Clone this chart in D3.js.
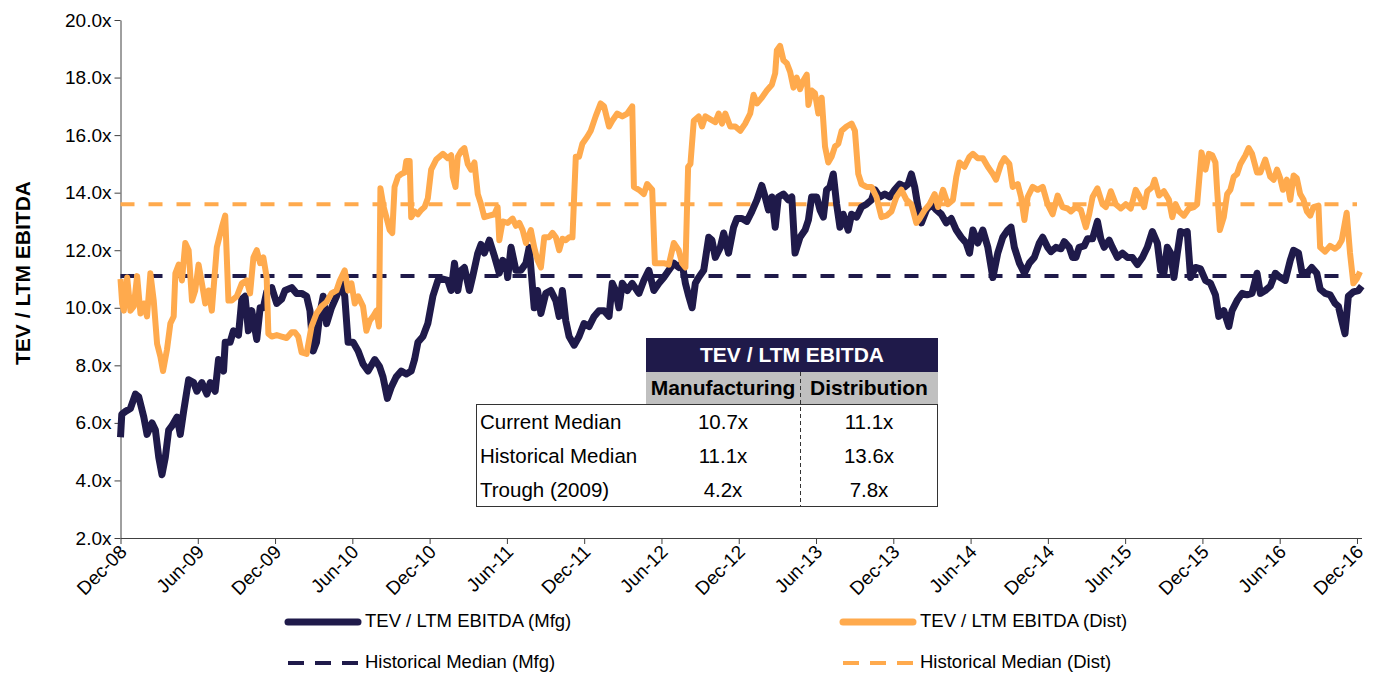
<!DOCTYPE html>
<html>
<head>
<meta charset="utf-8">
<script src="https://cdn.jsdelivr.net/npm/d3@7"></script>
<style>
  body { margin: 0; background: #fff; }
  svg { display: block; font-family: "Liberation Sans", Arial, sans-serif; }
</style>
</head>
<body>
<svg width="1373" height="673"></svg>
<script>
// x tick labels, one every 6 months starting Dec-08
const tickLabels = ["Dec-08", "Jun-09", "Dec-09", "Jun-10", "Dec-10", "Jun-11", "Dec-11", "Jun-12", "Dec-12",
    "Jun-13", "Dec-13", "Jun-14", "Dec-14", "Jun-15", "Dec-15", "Jun-16", "Dec-16"];

// Manufacturing: months after Dec-08, TEV / LTM EBITDA
const mfgMonth = [0, 0.1, 0.39, 0.77, 1.16, 1.42, 1.81, 2.06, 2.45, 2.71, 2.97, 3.22, 3.48, 3.74, 4.0, 4.39, 4.64, 4.9,
    5.29, 5.68, 5.93, 6.32, 6.71, 6.97, 7.35, 7.61, 8.0, 8.13, 8.51, 8.77, 9.16, 9.42, 9.67, 9.93, 10.19, 10.58, 10.84,
    11.09, 11.35, 11.74, 12.13, 12.51, 12.77, 13.29, 13.67, 14.06, 14.45, 14.71, 14.96, 15.22, 15.48, 15.74, 16.0, 16.38,
    16.77, 17.16, 17.41, 17.67, 18.06, 18.45, 18.83, 19.22, 19.74, 20.12, 20.38, 20.72, 21.03, 21.41, 21.8, 22.19, 22.57,
    22.83, 23.09, 23.48, 23.86, 24.25, 24.64, 25.03, 25.41, 25.67, 25.93, 26.19, 26.45, 26.7, 27.09, 27.35, 27.74, 27.99,
    28.25, 28.64, 29.03, 29.41, 29.67, 29.93, 30.06, 30.32, 30.7, 31.09, 31.48, 31.73, 32.12, 32.38, 32.64, 33.02, 33.41,
    33.8, 34.06, 34.31, 34.57, 34.83, 35.22, 35.6, 35.99, 36.38, 36.77, 37.15, 37.54, 37.93, 38.18, 38.44, 38.7, 38.96,
    39.35, 39.73, 40.25, 40.63, 41.02, 41.41, 41.8, 42.18, 42.57, 42.96, 43.34, 43.6, 43.86, 44.12, 44.38, 44.63, 44.89,
    45.28, 45.67, 45.92, 46.18, 46.57, 46.83, 47.21, 47.6, 47.86, 48.25, 48.63, 49.02, 49.41, 49.79, 50.05, 50.31, 50.57,
    50.83, 51.08, 51.47, 51.86, 52.12, 52.37, 52.76, 53.15, 53.41, 53.66, 54.05, 54.31, 54.57, 54.82, 55.08, 55.34, 55.6,
    55.86, 56.11, 56.5, 56.76, 57.15, 57.53, 57.92, 58.31, 58.57, 58.95, 59.34, 59.73, 60.11, 60.5, 60.89, 61.15, 61.4,
    61.66, 61.92, 62.18, 62.57, 62.95, 63.34, 63.73, 64.11, 64.5, 64.89, 65.27, 65.66, 65.92, 66.18, 66.56, 66.95, 67.34,
    67.73, 68.11, 68.5, 68.89, 69.14, 69.4, 69.79, 70.18, 70.56, 70.95, 71.34, 71.6, 71.98, 72.24, 72.63, 73.02, 73.27,
    73.66, 73.92, 74.18, 74.43, 74.82, 75.08, 75.47, 75.85, 76.11, 76.37, 76.76, 77.01, 77.4, 77.79, 78.18, 78.56, 78.95,
    79.34, 79.72, 80.11, 80.5, 80.76, 81.01, 81.27, 81.53, 81.79, 82.05, 82.3, 82.56, 82.82, 83.08, 83.46, 83.85, 84.24,
    84.63, 85.01, 85.27, 85.66, 86.05, 86.3, 86.69, 87.08, 87.46, 87.85, 88.24, 88.5, 88.88, 89.27, 89.66, 90.04, 90.43,
    90.82, 91.08, 91.46, 91.72, 92.11, 92.49, 92.88, 93.14, 93.53, 93.91, 94.3, 94.56, 94.82, 95.07, 95.33, 95.72, 96.11,
    96.37];
const mfgValue = [5.5, 6.3, 6.4, 6.5, 7.0, 6.9, 6.2, 5.6, 6.0, 5.75, 4.8, 4.2, 4.8, 5.75, 5.9, 6.2, 5.6, 6.4,
    7.5, 7.4, 7.1, 7.4, 7.0, 7.4, 7.1, 8.2, 7.8, 8.8, 8.8, 9.2, 9.05, 10.3, 10.4, 9.2, 9.9, 8.9, 10.0,
    10.0, 10.55, 10.7, 10.15, 10.3, 10.6, 10.7, 10.5, 10.5, 10.4, 9.9, 8.5, 8.8, 9.8, 10.4, 9.45, 10.0,
    10.4, 10.85, 10.4, 8.8, 8.8, 8.5, 8.05, 7.8, 8.2, 7.95, 7.6, 6.85, 7.25, 7.6, 7.8, 7.7, 7.8,
    8.2, 8.8, 9.0, 9.45, 10.4, 10.95, 11.0, 10.95, 10.6, 11.55, 10.6, 11.3, 11.4, 10.6, 11.1, 11.9, 12.2,
    11.9, 12.35, 11.8, 11.2, 11.65, 11.55, 11.05, 12.1, 11.3, 11.3, 11.55, 12.1, 10.0, 10.6, 9.8, 10.5, 10.6,
    10.25, 9.7, 10.6, 9.55, 9.0, 8.7, 9.0, 9.45, 9.35, 9.7, 9.9, 9.9, 9.7, 10.85, 10.6, 10.0, 10.85,
    10.6, 10.85, 10.5, 10.95, 11.3, 10.6, 10.85, 11.05, 11.3, 11.55, 11.4, 11.55, 10.85, 10.4, 10.0, 10.85, 11.05,
    11.3, 12.45, 12.35, 11.75, 12.1, 12.6, 11.9, 12.8, 13.1, 13.1, 13.0, 13.35, 13.75, 14.25, 13.85, 13.4, 13.85,
    12.8, 13.85, 13.95, 13.75, 13.85, 11.9, 12.45, 12.7, 13.05, 13.85, 13.85, 13.4, 13.15, 14.1, 14.2, 14.65, 13.6,
    12.8, 13.25, 12.7, 13.25, 13.15, 13.5, 13.6, 13.75, 14.1, 13.85, 13.95, 13.85, 14.1, 14.3, 14.2, 14.3, 14.65,
    14.2, 13.5, 12.95, 13.4, 13.6, 13.4, 13.25, 12.95, 13.1, 12.7, 12.45, 12.25, 11.9, 12.7, 12.25, 12.7, 12.1,
    11.05, 11.9, 12.45, 12.7, 12.8, 12.1, 11.55, 11.2, 11.55, 11.75, 12.25, 12.45, 12.1, 11.95, 12.1, 12.05, 12.3,
    12.1, 11.75, 11.75, 12.1, 12.15, 12.4, 12.4, 13.0, 12.4, 12.1, 12.35, 12.1, 11.75, 11.9, 11.75, 11.75, 11.5,
    11.75, 12.1, 12.65, 12.25, 11.3, 11.2, 12.1, 11.9, 11.05, 11.9, 12.65, 12.6, 12.65, 11.05, 11.4, 11.35, 10.95,
    10.85, 10.45, 9.7, 9.9, 9.35, 9.9, 10.25, 10.5, 10.45, 10.5, 11.2, 10.5, 10.6, 10.75, 11.2, 11.05, 10.95,
    11.65, 12.0, 11.9, 11.25, 11.2, 11.4, 11.2, 10.65, 10.5, 10.45, 10.15, 10.05, 9.55, 9.1, 10.4, 10.55, 10.6,
    10.75];

// Distribution: months after Dec-08, TEV / LTM EBITDA
const distMonth = [0, 0.13, 0.26, 0.52, 0.77, 1.03, 1.29, 1.55, 1.81, 2.06, 2.32, 2.58, 2.84, 3.1, 3.3, 3.61, 3.87,
    4.13, 4.26, 4.52, 4.77, 5.03, 5.29, 5.55, 5.8, 6.06, 6.32, 6.58, 6.84, 7.09, 7.48, 7.87, 8.13, 8.38, 8.64, 9.03,
    9.42, 9.8, 10.06, 10.32, 10.58, 10.84, 11.09, 11.35, 11.48, 11.74, 12.13, 12.51, 12.9, 13.29, 13.54, 13.8, 14.06,
    14.45, 14.83, 15.22, 15.61, 16.0, 16.38, 16.77, 17.03, 17.41, 17.67, 17.93, 18.19, 18.45, 18.83, 19.09, 19.35,
    19.61, 19.87, 20.07, 20.18, 20.43, 20.64, 20.9, 21.1, 21.28, 21.54, 21.8, 22.06, 22.19, 22.45, 22.57, 22.83, 23.09,
    23.35, 23.61, 23.86, 24.12, 24.51, 25.03, 25.41, 25.67, 25.8, 26.01, 26.19, 26.45, 26.7, 26.96, 27.22, 27.48,
    27.74, 27.99, 28.25, 28.64, 29.03, 29.28, 29.41, 29.67, 30.06, 30.44, 30.7, 30.96, 31.22, 31.48, 31.86, 32.12,
    32.38, 32.64, 32.9, 33.28, 33.54, 33.8, 34.06, 34.31, 34.57, 34.83, 35.09, 35.35, 35.6, 35.86, 36.25, 36.51, 36.89,
    37.28, 37.54, 37.93, 38.18, 38.57, 38.96, 39.35, 39.73, 39.86, 40.25, 40.63, 40.89, 41.28, 41.49, 41.8, 42.18,
    42.57, 42.96, 43.34, 43.6, 43.86, 44.07, 44.25, 44.51, 44.89, 45.15, 45.41, 45.8, 46.18, 46.44, 46.7, 46.96, 47.34,
    47.73, 48.12, 48.5, 48.89, 49.15, 49.41, 49.79, 50.18, 50.57, 50.83, 50.96, 51.21, 51.47, 51.73, 51.99, 52.25,
    52.5, 52.76, 53.02, 53.28, 53.41, 53.66, 53.92, 54.18, 54.44, 54.7, 54.95, 55.21, 55.47, 55.73, 55.99, 56.37,
    56.76, 57.02, 57.28, 57.53, 57.92, 58.31, 58.69, 59.08, 59.47, 59.86, 60.24, 60.63, 61.02, 61.4, 61.79, 62.05,
    62.44, 62.82, 63.21, 63.47, 63.86, 64.24, 64.63, 64.89, 65.14, 65.53, 65.92, 66.18, 66.56, 66.95, 67.34, 67.73,
    67.98, 68.37, 68.63, 69.01, 69.27, 69.66, 69.92, 70.18, 70.43, 70.82, 71.21, 71.6, 71.98, 72.37, 72.76, 73.14,
    73.53, 73.79, 74.18, 74.56, 74.95, 75.21, 75.47, 75.85, 76.24, 76.5, 76.89, 77.27, 77.66, 78.05, 78.43, 78.82,
    79.08, 79.47, 79.72, 80.11, 80.29, 80.63, 81.01, 81.4, 81.66, 81.92, 82.18, 82.56, 82.95, 83.34, 83.59, 83.93,
    84.24, 84.5, 84.76, 85.01, 85.14, 85.35, 85.66, 85.92, 86.17, 86.43, 86.69, 86.95, 87.34, 87.59, 87.85, 88.24,
    88.5, 88.88, 89.27, 89.53, 89.79, 90.04, 90.25, 90.56, 90.82, 91.08, 91.33, 91.59, 91.85, 92.11, 92.37, 92.62,
    93.01, 93.14, 93.53, 93.91, 94.3, 94.56, 94.82, 95.2, 95.46, 95.72, 95.98, 96.24];
const distValue = [11.0, 10.15, 9.9, 11.05, 9.9, 10.05, 11.1, 9.8, 10.15, 9.7, 11.2, 10.25, 8.75, 8.3, 7.8, 8.55, 9.45,
    9.7, 11.2, 11.5, 10.95, 12.25, 12.0, 10.25, 10.6, 11.5, 10.85, 10.15, 10.6, 9.9, 12.1, 12.8, 13.2, 10.25, 10.25, 10.4,
    10.85, 10.95, 10.5, 11.75, 12.0, 11.55, 11.75, 11.05, 9.1, 9.0, 9.05, 9.0, 8.95, 9.15, 9.15, 9.0, 8.45,
    8.4, 9.35, 9.8, 10.05, 10.2, 10.5, 10.6, 10.95, 11.3, 10.6, 10.85, 10.15, 10.4, 10.05, 9.2, 9.55,
    9.7, 9.9, 9.35, 14.15, 13.5, 13.15, 12.7, 12.6, 14.2, 14.55, 14.65, 14.7, 15.1, 15.1, 13.15, 13.35, 13.25,
    13.4, 13.5, 13.8, 14.8, 15.15, 15.35, 15.2, 15.3, 14.55, 14.2, 15.25, 15.45, 15.55, 15.0, 14.8, 15.05,
    13.95, 13.6, 13.15, 13.2, 13.25, 13.5, 12.35, 13.0, 12.95, 13.1, 12.85, 12.95, 12.7, 12.25, 12.7, 12.1,
    11.65, 11.4, 12.45, 12.45, 12.6, 12.45, 12.0, 12.4, 12.35, 12.45, 12.45, 15.25, 15.25, 15.7, 15.95, 16.15, 16.65,
    17.1, 17.0, 16.3, 16.5, 16.75, 16.65, 16.75, 17.0, 14.2, 14.1, 13.95, 14.3, 14.1, 11.55, 11.55, 11.55,
    11.5, 12.25, 12.0, 11.55, 11.4, 14.9, 15.0, 16.5, 16.65, 16.3, 16.65, 16.55, 16.45, 16.75, 16.4, 16.75, 16.3,
    16.3, 16.15, 16.4, 16.75, 17.4, 17.1, 17.3, 17.55, 17.75, 18.15, 18.95, 19.1, 18.6, 18.5, 18.2, 17.65,
    18.0, 17.6, 17.9, 18.1, 17.05, 17.55, 17.45, 16.75, 17.3, 15.6, 15.05, 15.25, 15.6, 15.7, 16.15, 16.3,
    16.4, 16.15, 14.65, 14.3, 14.2, 14.2, 13.85, 13.15, 13.2, 13.35, 13.85, 14.1, 13.75, 13.6, 12.95, 13.1,
    13.4, 13.6, 13.95, 13.5, 14.1, 13.6, 13.75, 14.55, 15.05, 14.9, 15.25, 15.35, 15.2, 15.2, 14.9, 14.65,
    14.45, 15.0, 15.2, 15.0, 14.2, 14.3, 13.85, 13.05, 13.85, 14.2, 14.1, 14.2, 13.6, 13.25, 13.9, 13.5,
    13.45, 13.35, 13.5, 13.4, 12.8, 13.25, 13.85, 14.15, 13.6, 13.5, 14.05, 13.6, 13.45, 13.6, 13.45, 14.1,
    13.9, 13.5, 14.05, 14.2, 14.45, 13.9, 14.05, 13.75, 13.15, 13.6, 13.35, 13.2, 13.45, 13.5, 13.6, 15.4,
    14.8, 15.35, 15.3, 15.05, 14.1, 12.7, 13.15, 13.95, 14.1, 14.55, 14.65, 15.0, 15.3, 15.55, 15.35, 14.7,
    14.7, 15.15, 14.55, 14.45, 14.8, 14.5, 14.1, 14.45, 13.75, 14.6, 14.5, 13.95, 13.75, 13.35, 13.2, 13.5,
    13.55, 12.1, 11.95, 12.15, 12.05, 12.15, 12.35, 13.3, 11.9, 10.85, 11.0, 11.25];

// summary table
const tableRows = ["Current Median", "Historical Median", "Trough (2009)"];
const mfgStats = [10.7, 11.1, 4.2];
const distStats = [11.1, 13.6, 7.8];

const svg = d3.select("svg");
const navy = "#1f1a4a", orange = "#ffaa4d";

const x = d3.scaleLinear().domain([0, 96.35]).range([120.5, 120.5 + 96.35 * 12.88]);
const y = d3.scaleLinear().domain([2, 20]).range([538, 20]);

// axes
const xAxis = svg.append("g")
    .attr("transform", "translate(0,538)")
    .call(d3.axisBottom(x)
        .tickValues(d3.range(0, 97, 6))
        .tickFormat(function (d, i) { return tickLabels[i]; })
        .tickSize(6).tickSizeOuter(0));
xAxis.selectAll("text")
    .attr("x", 0).attr("y", 0).attr("dy", 0)
    .attr("transform", "translate(7,15) rotate(-45)")
    .style("text-anchor", "end")
    .style("font-size", "19px")
    .attr("fill", "#000");

const yAxis = svg.append("g")
    .attr("transform", "translate(120.5,0)")
    .call(d3.axisLeft(y)
        .tickValues(d3.range(2, 21, 2))
        .tickFormat(function (d) { return d.toFixed(1) + "x"; })
        .tickSize(6).tickSizeOuter(0));
yAxis.selectAll("text").style("font-size", "19px").attr("fill", "#000");
svg.selectAll(".domain, .tick line").attr("stroke", "#404040");

svg.append("text")
    .attr("transform", "translate(24,273) rotate(-90)")
    .attr("text-anchor", "middle")
    .attr("dominant-baseline", "middle")
    .style("font-size", "21px")
    .style("font-weight", "bold")
    .text("TEV / LTM EBITDA");

// historical medians
[[mfgStats[1], navy], [distStats[1], orange]].forEach(function (m) {
    svg.append("line")
        .attr("x1", x(0)).attr("x2", x(96))
        .attr("y1", y(m[0])).attr("y2", y(m[0]))
        .attr("stroke", m[1])
        .attr("stroke-width", 4)
        .attr("stroke-dasharray", "14,14");
});

// series
let line = d3.line()
    .x(function (d) { return x(d[0]); })
    .y(function (d) { return y(d[1]); });

svg.append("path")
    .datum(d3.zip(mfgMonth, mfgValue))
    .attr("d", line)
    .attr("fill", "none")
    .attr("stroke", navy)
    .attr("stroke-width", 7)
    .attr("stroke-linejoin", "round");

svg.append("path")
    .datum(d3.zip(distMonth, distValue))
    .attr("d", line)
    .attr("fill", "none")
    .attr("stroke", orange)
    .attr("stroke-width", 6)
    .attr("stroke-linejoin", "round");

// legend
const legend = [
    { label: "TEV / LTM EBITDA (Mfg)", color: navy, dash: null, lx: 288, ly: 622 },
    { label: "TEV / LTM EBITDA (Dist)", color: orange, dash: null, lx: 843, ly: 622 },
    { label: "Historical Median (Mfg)", color: navy, dash: "16,11", lx: 288, ly: 663 },
    { label: "Historical Median (Dist)", color: orange, dash: "16,11", lx: 843, ly: 663 }
];
let item = svg.selectAll(".legend")
    .data(legend)
    .enter().append("g")
    .attr("class", "legend")
    .attr("transform", function (d) { return "translate(" + d.lx + "," + d.ly + ")"; });
item.append("line")
    .attr("x1", 0).attr("x2", 70)
    .attr("stroke", function (d) { return d.color; })
    .attr("stroke-width", function (d) { return d.dash ? 4 : 7; })
    .attr("stroke-linecap", function (d) { return d.dash ? "butt" : "round"; })
    .attr("stroke-dasharray", function (d) { return d.dash; });
item.append("text")
    .attr("x", 77)
    .attr("dominant-baseline", "middle")
    .style("font-size", "18.5px")
    .text(function (d) { return d.label; });

// table
const t = svg.append("g");
t.append("rect").attr("x", 646).attr("y", 338).attr("width", 292).attr("height", 34).attr("fill", navy);
t.append("text")
    .attr("x", 792).attr("y", 356)
    .attr("text-anchor", "middle").attr("dominant-baseline", "middle")
    .attr("fill", "#fff").style("font-size", "21px").style("font-weight", "bold")
    .text("TEV / LTM EBITDA");
t.append("rect").attr("x", 646).attr("y", 372).attr("width", 292).attr("height", 32).attr("fill", "#c0c0c0");
[["Manufacturing", 723], ["Distribution", 869]].forEach(function (h) {
    t.append("text")
        .attr("x", h[1]).attr("y", 389)
        .attr("text-anchor", "middle").attr("dominant-baseline", "middle")
        .style("font-size", "21px").style("font-weight", "bold")
        .text(h[0]);
});
t.append("rect")
    .attr("x", 476.5).attr("y", 404.5).attr("width", 461).attr("height", 102)
    .attr("fill", "#fff").attr("stroke", "#333");
t.append("line")
    .attr("x1", 800.5).attr("x2", 800.5).attr("y1", 372).attr("y2", 506)
    .attr("stroke", "#333").attr("stroke-dasharray", "4,3");

let row = t.selectAll(".row")
    .data(tableRows)
    .enter().append("g")
    .attr("class", "row")
    .attr("transform", function (d, i) { return "translate(0," + (424 + i * 34) + ")"; })
    .style("font-size", "20.5px")
    .attr("dominant-baseline", "middle");
row.append("text").attr("x", 480).text(function (d) { return d; });
row.append("text").attr("x", 723).attr("text-anchor", "middle")
    .text(function (d, i) { return mfgStats[i].toFixed(1) + "x"; });
row.append("text").attr("x", 869).attr("text-anchor", "middle")
    .text(function (d, i) { return distStats[i].toFixed(1) + "x"; });
</script>
</body>
</html>
